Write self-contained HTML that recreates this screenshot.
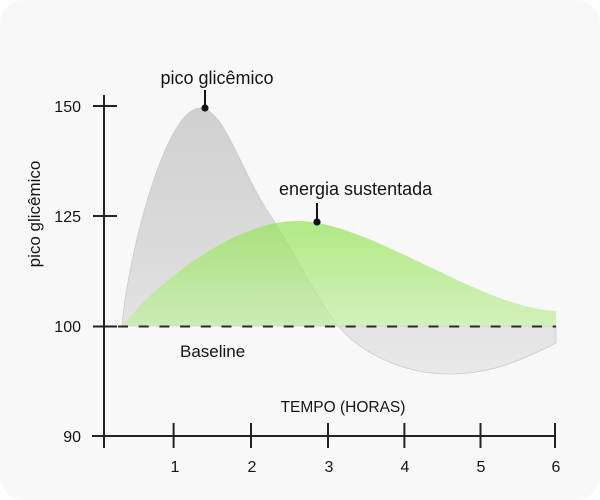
<!DOCTYPE html>
<html>
<head>
<meta charset="utf-8">
<style>
  html,body{margin:0;padding:0;background:#ffffff;}
  svg{display:block;}
  text{font-family:"Liberation Sans",Arial,sans-serif;fill:#141414;}
</style>
</head>
<body>
<svg width="600" height="500" viewBox="0 0 600 500" xmlns="http://www.w3.org/2000/svg">
  <defs>
    <linearGradient id="gGray" x1="0" y1="108" x2="0" y2="374" gradientUnits="userSpaceOnUse">
      <stop offset="0" stop-color="#d0d0d0"/>
      <stop offset="0.6" stop-color="#dcdcdc"/>
      <stop offset="1" stop-color="#e9e9e9"/>
    </linearGradient>
    <linearGradient id="gGreen" x1="0" y1="221" x2="0" y2="326" gradientUnits="userSpaceOnUse">
      <stop offset="0" stop-color="rgb(149,228,85)" stop-opacity="0.72"/>
      <stop offset="1" stop-color="rgb(196,238,165)" stop-opacity="0.72"/>
    </linearGradient>
  </defs>

  <rect x="0" y="0" width="600" height="500" rx="24" ry="24" fill="#f8f8f8"/>

  <!-- gray curve -->
  <path d="M122,326 C127,260 165,108 200,108 C224,108 240,170 270,215 C290,245 320,305 340,328 C360,351 400,374 450,374 C495,374 525,358 556,343 L556,326 L122,326 Z"
        fill="url(#gGray)" stroke="#cacaca" stroke-width="0.8"/>

  <!-- green curve -->
  <path d="M122,326 C150,290 230,221 297,221 C370,221 480,308 556,311 L556,326 L122,326 Z"
        fill="url(#gGreen)"/>

  <!-- dashed baseline -->
  <line x1="118" y1="326.5" x2="556" y2="326.5" stroke="#2a2a2a" stroke-width="2" stroke-dasharray="10 10.7"/>

  <!-- axes -->
  <line x1="104" y1="95" x2="104" y2="448" stroke="#222" stroke-width="2"/>
  <line x1="92" y1="436" x2="556" y2="436" stroke="#222" stroke-width="2"/>

  <!-- y ticks -->
  <line x1="93" y1="106" x2="117" y2="106" stroke="#222" stroke-width="2"/>
  <line x1="93" y1="216" x2="117" y2="216" stroke="#222" stroke-width="2"/>
  <line x1="93" y1="326.5" x2="117" y2="326.5" stroke="#222" stroke-width="2"/>

  <!-- x ticks -->
  <line x1="173.6" y1="423" x2="173.6" y2="448" stroke="#222" stroke-width="2"/>
  <line x1="251" y1="423" x2="251" y2="448" stroke="#222" stroke-width="2"/>
  <line x1="328" y1="423" x2="328" y2="448" stroke="#222" stroke-width="2"/>
  <line x1="404.4" y1="423" x2="404.4" y2="448" stroke="#222" stroke-width="2"/>
  <line x1="480.5" y1="423" x2="480.5" y2="448" stroke="#222" stroke-width="2"/>
  <line x1="555" y1="423" x2="555" y2="448" stroke="#222" stroke-width="2"/>

  <!-- y tick labels -->
  <text x="81" y="112" font-size="16" text-anchor="end">150</text>
  <text x="81" y="222" font-size="16" text-anchor="end">125</text>
  <text x="81" y="332" font-size="16" text-anchor="end">100</text>
  <text x="81" y="442" font-size="16" text-anchor="end">90</text>

  <!-- x tick labels -->
  <text x="175" y="472" font-size="16" text-anchor="middle">1</text>
  <text x="252" y="472" font-size="16" text-anchor="middle">2</text>
  <text x="329" y="472" font-size="16" text-anchor="middle">3</text>
  <text x="405" y="472" font-size="16" text-anchor="middle">4</text>
  <text x="481" y="472" font-size="16" text-anchor="middle">5</text>
  <text x="556" y="472" font-size="16" text-anchor="middle">6</text>

  <!-- axis titles -->
  <text x="343" y="412" font-size="15.5" text-anchor="middle">TEMPO (HORAS)</text>
  <text transform="translate(40,214) rotate(-90)" font-size="17" text-anchor="middle">pico glicêmico</text>

  <!-- baseline label -->
  <text x="180" y="357" font-size="17">Baseline</text>

  <!-- annotations -->
  <text x="217" y="84" font-size="18" text-anchor="middle">pico glicêmico</text>
  <line x1="205" y1="90" x2="205" y2="108" stroke="#111" stroke-width="2"/>
  <circle cx="205" cy="108" r="3.6" fill="#111"/>

  <text x="279" y="195" font-size="18">energia sustentada</text>
  <line x1="317" y1="203" x2="317" y2="222" stroke="#111" stroke-width="2"/>
  <circle cx="317" cy="222" r="3.6" fill="#111"/>
</svg>
</body>
</html>
